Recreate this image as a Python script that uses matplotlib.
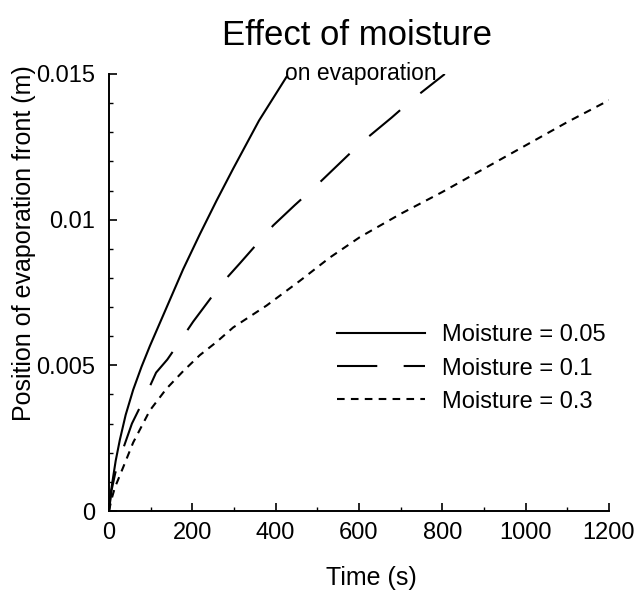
import matplotlib
matplotlib.use("Agg")
import matplotlib.pyplot as plt
from matplotlib.ticker import MultipleLocator, FixedLocator, FixedFormatter

plt.rcParams['font.family'] = ['Liberation Sans', 'DejaVu Sans']
plt.rcParams['lines.scale_dashes'] = False

# ---- data ----
t_005 = [0, 4, 10, 16, 26, 40, 58, 78, 98, 138, 178, 218, 258, 298, 360, 426]
y_005 = [0, 0.0006, 0.00117, 0.00172, 0.00244, 0.0033, 0.00416, 0.00495, 0.00566,
         0.00698, 0.0083, 0.0095, 0.01065, 0.01175, 0.0134, 0.0149]

t_01 = [0, 6, 15, 33, 55, 86, 113, 140, 169, 202, 270, 314, 394, 446, 500, 602, 678, 726, 806]
y_01 = [0, 0.0007, 0.0013, 0.0021, 0.0030, 0.0039, 0.00475, 0.0052, 0.0058, 0.0065,
        0.0078, 0.0085, 0.0098, 0.0105, 0.0112, 0.0126, 0.0135, 0.0141, 0.0150]

t_03 = [0, 6, 14, 34, 58, 98, 138, 178, 218, 258, 298, 378, 458, 530, 602, 700, 800,
        900, 1000, 1100, 1200]
y_03 = [0, 0.0004, 0.0008, 0.0015, 0.00235, 0.00345, 0.0042, 0.0048, 0.00535, 0.0058,
        0.0063, 0.00705, 0.0079, 0.0087, 0.0094, 0.0102, 0.01095, 0.01175, 0.01255,
        0.01335, 0.0141]

series_labels = ['Moisture = 0.05', 'Moisture = 0.1', 'Moisture = 0.3']
xtick_vals = [0, 200, 400, 600, 800, 1000, 1200]
xtick_labels = ['0', '200', '400', '600', '800', '1000', '1200']
ytick_vals = [0, 0.005, 0.01, 0.015]
ytick_labels = ['0', '0.005', '0.01', '0.015']

fig = plt.figure(figsize=(6.4, 5.93), dpi=100)
ax = fig.add_axes([109/640, 1 - 511/593, 500/640, 437/593])

lw = 1.5
ax.plot(t_005, y_005, color='black', lw=lw, label=series_labels[0])
l2, = ax.plot(t_01, y_01, color='black', lw=lw, label=series_labels[1])
l2.set_dashes((29, 19))
l3, = ax.plot(t_03, y_03, color='black', lw=lw, label=series_labels[2])
l3.set_dashes((5.5, 4.5))

ax.set_xlim(0, 1200)
ax.set_ylim(0, 0.015)
ax.xaxis.set_major_locator(FixedLocator(xtick_vals))
ax.xaxis.set_major_formatter(FixedFormatter(xtick_labels))
ax.xaxis.set_minor_locator(MultipleLocator(100))
ax.yaxis.set_major_locator(FixedLocator(ytick_vals))
ax.yaxis.set_major_formatter(FixedFormatter(ytick_labels))
ax.yaxis.set_minor_locator(MultipleLocator(0.001))

for s in ['top', 'right']:
    ax.spines[s].set_visible(False)
for s in ['left', 'bottom']:
    ax.spines[s].set_linewidth(1.4)

ax.tick_params(which='major', direction='in', length=6, width=1.2, labelsize=17)
ax.tick_params(which='minor', direction='in', length=3, width=1.0)
ax.tick_params(axis='x', which='major', pad=8)
ax.tick_params(axis='y', which='major', pad=10)

ax.set_xlabel('Time (s)', fontsize=18)
ax.xaxis.set_label_coords(0.524, -0.125)
ax.set_ylabel('Position of evaporation front (m)', fontsize=18)
ax.yaxis.set_label_coords(-0.145, 0.613)

fig.text(357/640, 1 - 45/593, 'Effect of moisture', fontsize=25, ha='center', va='baseline')
fig.text(285/640, 1 - 80/593, 'on evaporation', fontsize=16.5, ha='left', va='baseline')

ax.legend(loc='center left', bbox_to_anchor=(0.456, 0.326), frameon=False,
          fontsize=17, handlelength=3.73, handletextpad=0.72, labelspacing=0.47,
          borderpad=0, borderaxespad=0)

fig.savefig('out.png', dpi=100)
